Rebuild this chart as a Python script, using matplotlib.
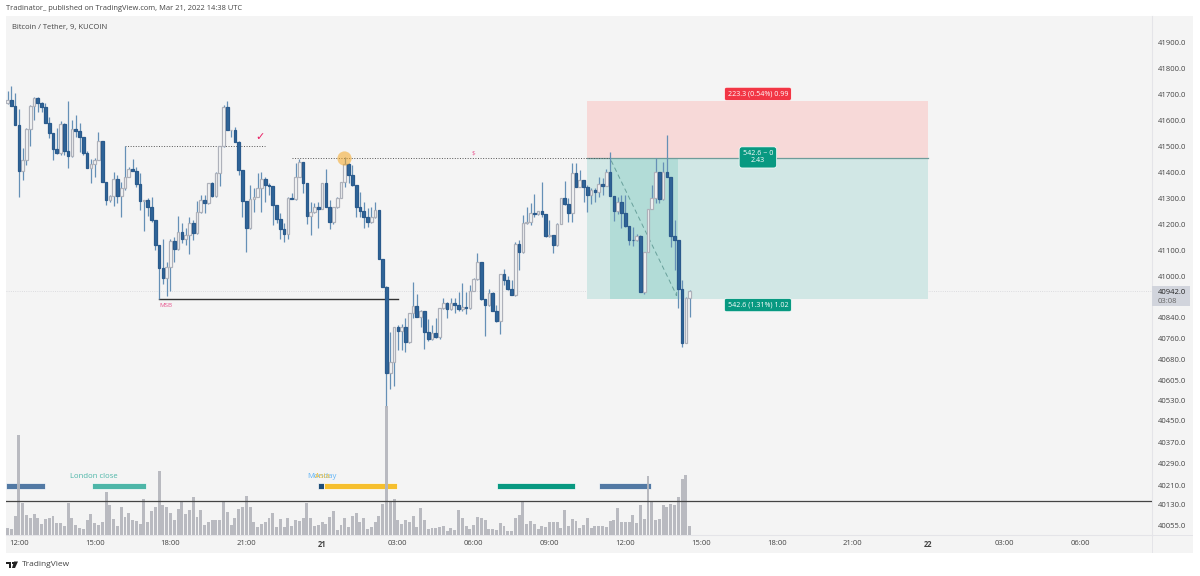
import matplotlib
matplotlib.use("Agg")
import numpy as np
from matplotlib import pyplot as plt
from matplotlib.patches import Rectangle, Polygon

plt.rcParams['font.family'] = ['Open Sans', 'DejaVu Sans']

# 9 minute candles, first one at 11:33
first_open = 41669
closes = [41680,41658,41582,41405,41448,41566,41658,41686,41667,41653,41590,41551,41490,41476,41586,41483,41463,41566,41561,41537,
          41476,41417,41431,41448,41520,41364,41293,41309,41373,41310,41339,41384,41412,41407,41355,41291,41293,41265,41215,41120,
          41032,40992,41036,41134,41103,41171,41144,41158,41203,41165,41248,41293,41281,41358,41310,41397,41502,41651,41564,41564,
          41519,41409,41288,41184,41296,41306,41339,41373,41353,41348,41274,41221,41180,41162,41302,41297,41384,41442,41360,41232,
          41246,41265,41260,41360,41268,41207,41265,41302,41362,41433,41390,41350,41266,41250,41227,41207,41227,41256,41064,40959,
          40624,40667,40805,40788,40802,40745,40856,40886,40843,40863,40785,40756,40779,40766,40875,40895,40872,40895,40887,40874,
          40879,40878,40944,40989,41054,40910,40887,40936,40866,40825,41007,40986,40949,40928,41124,41093,41206,41209,41245,41241,
          41250,41238,41155,41157,41119,41201,41303,41280,41245,41396,41344,41370,41344,41312,41334,41325,41357,41348,41402,41308,
          41250,41284,41244,41193,41141,41139,41155,40939,41093,41257,41302,41402,41296,41402,41383,41155,41139,40949,40742,40917,
          40942]
highs = [41715,41735,41708,41644,41493,41570,41660,41693,41690,41673,41669,41613,41551,41573,41600,41590,41677,41602,41622,41590,
         41538,41484,41451,41454,41557,41520,41364,41313,41403,41390,41364,41503,41420,41452,41420,41396,41293,41300,41304,41215,
         41120,41142,41055,41142,41149,41232,41203,41184,41229,41216,41291,41313,41313,41358,41364,41403,41502,41660,41676,41564,
         41577,41521,41407,41288,41351,41339,41396,41403,41384,41358,41348,41274,41245,41206,41304,41319,41435,41451,41442,41360,
         41287,41283,41287,41360,41412,41293,41268,41306,41364,41458,41438,41429,41350,41326,41287,41261,41268,41287,41256,41064,
         40962,40785,40805,40811,40815,40837,40859,40978,40931,40869,40863,40833,40811,40837,40875,40914,40901,40914,40914,40940,
         40972,40940,40966,40991,41090,41054,40910,40949,40940,40888,41008,41026,41000,40985,41133,41139,41236,41268,41281,41317,
         41250,41362,41238,41217,41157,41204,41303,41365,41300,41435,41435,41411,41370,41351,41338,41338,41383,41377,41415,41480,
         41308,41306,41312,41312,41193,41190,41164,41158,41093,41257,41351,41454,41402,41441,41544,41383,41216,41139,40984,40920,
         40945]
lows = [41664,41658,41582,41304,41371,41429,41503,41602,41635,41632,41590,41532,41448,41471,41467,41467,41416,41458,41538,41480,
        41467,41416,41358,41384,41448,41364,41274,41287,41270,41281,41227,41332,41381,41407,41345,41255,41175,41232,41210,41100,
        40910,40969,40923,40943,41055,41100,41126,41120,41085,41139,41162,41242,41242,41278,41306,41306,41348,41500,41564,41538,
        41518,41390,41229,41094,41181,41248,41304,41248,41287,41313,41197,41203,41142,41133,41142,41296,41293,41381,41319,41201,
        41158,41242,41187,41257,41265,41180,41201,41261,41300,41345,41358,41348,41229,41229,41184,41191,41203,41223,41064,40959,
        40496,40563,40575,40715,40715,40708,40743,40837,40841,40805,40717,40751,40753,40760,40756,40872,40837,40869,40859,40863,
        40866,40854,40874,40941,40985,40908,40769,40884,40864,40823,40775,40966,40946,40926,40923,41023,41090,41201,41196,41229,
        41235,41229,41152,41152,41088,41116,41199,41275,41210,41209,41344,41342,41287,41248,41280,41287,41306,41312,41348,41308,
        41212,41241,41187,41190,41119,41115,41136,40939,40930,41091,41257,41283,41283,41293,41381,41113,41023,40878,40727,40742,
        40840]
# no scale on the volume pane, so these are relative heights
volumes = [22,18,57,301,95,60,52,62,50,32,47,50,58,36,36,28,95,52,30,22,
           18,45,62,36,30,40,128,89,48,26,85,54,66,45,42,32,108,40,73,85,
           191,91,85,66,46,78,103,63,75,113,54,75,30,40,46,46,44,101,69,30,
           50,79,83,117,85,40,24,32,40,50,65,24,48,24,50,28,46,42,51,97,
           50,28,30,38,32,53,72,16,30,52,25,
           57,67,40,51,18,23,38,56,94,387,100,107,45,33,45,40,56,24,81,46,
           19,20,20,24,26,12,20,14,74,52,28,18,30,54,50,44,17,18,14,36,
           26,12,12,51,60,100,32,42,32,18,28,24,38,38,38,22,74,28,47,42,
           20,30,50,20,28,28,26,24,42,46,81,38,40,38,60,36,91,48,177,102,
           44,48,89,83,93,91,115,167,181,26]

time_labels = ['12:00','15:00','18:00','21:00','21','03:00','06:00','09:00','12:00','15:00','18:00','21:00','22','03:00','06:00']
price_labels = ['41900.0','41800.0','41700.0','41600.0','41500.0','41400.0','41300.0','41200.0','41100.0','41000.0',
                '40840.0','40760.0','40680.0','40605.0','40530.0','40450.0','40370.0','40290.0','40210.0','40130.0','40055.0']
# the scale is not quite linear at the bottom, so the label spots are kept apart from the text
price_ticks = [41900,41800,41700,41600,41500,41400,41300,41200,41100,41000,
               40838,40757,40676,40598,40521,40444,40359,40278,40193,40116,40038]

entry = 41454
stop = 41677.3
target = 40911.4

# session boxes, in bars
session_starts = [-0.4, 22.3, 82, 83.6, 129.2, 156]
session_ends = [9.8, 36.5, 83.6, 102.7, 149.7, 169.8]
session_colors = ['#5279a4', '#4db6a8', '#1f4e79', '#f6bf2d', '#089981', '#5279a4']

PANEL = '#f4f4f4'
UP_EDGE = '#aeb1ba'
UP_FILL = '#f8f8f8'
DOWN_FILL = '#2f6599'
DOWN_EDGE = '#2a5a8c'
WICK = '#6590b6'
PINK = '#e8578f'
SEP = '#e4e4e8'


def fx(x):
    return x / 1200


def fy(y):
    return 1 - y / 576


closes = np.array(closes, float)
opens = np.r_[first_open, closes[:-1]]
highs = np.array(highs, float)
lows = np.array(lows, float)
idx = np.arange(len(closes))
up = closes >= opens

fig = plt.figure(figsize=(12, 5.76), dpi=100, facecolor='white')
fig.add_artist(Rectangle((fx(6), fy(553)), fx(1187), 537 / 576, transform=fig.transFigure,
                         fc=PANEL, ec='none', zorder=-5))
fig.add_artist(Rectangle((fx(1152), fy(535.5)), fx(41), 1 / 576, transform=fig.transFigure, fc=SEP, ec='none', zorder=-4))
fig.add_artist(Rectangle((fx(1151.5), fy(553)), fx(1), 18 / 576, transform=fig.transFigure, fc=SEP, ec='none', zorder=-4))

ax = fig.add_axes([fx(6), fy(535), fx(1146), 519 / 576])
ax.patch.set_alpha(0)
ax.set_xlim(-0.396, 301.98)
ax.set_ylim(40000, 42004)

ax.axhline(40942, color='#d4d4d8', lw=0.6, ls=':', zorder=1)

# long/short tool
ax.add_patch(Rectangle((153, entry), 90, stop - entry, fc='#f7d9d8', ec='none', zorder=1))
ax.add_patch(Rectangle((153, target), 90, entry - target, fc='#d1e7e5', ec='none', zorder=1))
ax.add_patch(Rectangle((159, target), 18, entry - target, fc='#b2dcd7', ec='none', zorder=1.1))
ax.plot([153, 243], [entry, entry], color='#6f9c9a', lw=0.9, zorder=1.2)
ax.annotate('', xy=(177, target), xytext=(159, entry), zorder=1.3,
            arrowprops=dict(arrowstyle='->', ls=(0, (4, 4)), lw=0.7, color='#68a09b', mutation_scale=5))

# levels
ax.plot([31, 68], [41503, 41503], color='#555555', lw=0.7, ls=':', zorder=2)
ax.plot([75, 159], [entry, entry], color='#555555', lw=0.7, ls=':', zorder=2)
ax.plot([40, 103], [target, target], color='#333333', lw=1, zorder=2)

for s, e, c in zip(session_starts, session_ends, session_colors):
    ax.add_patch(Rectangle((s, 40176), e - s, 23, fc=c, ec='white', lw=0.5, zorder=2))

ax.vlines(idx, lows, highs, color=WICK, lw=0.9, zorder=3)
ax.bar(idx[up], (closes - opens)[up], bottom=opens[up], width=0.7, color=UP_FILL, edgecolor=UP_EDGE, lw=0.9, zorder=4)
ax.bar(idx[~up], (closes - opens)[~up], bottom=opens[~up], width=0.7, color=DOWN_FILL, edgecolor=DOWN_EDGE, lw=0.9, zorder=4)

ax.scatter([88.8], [entry], s=105, color='#f5a623', alpha=0.55, lw=0, zorder=5)
ax.text(66.6, 41533, '\u2713', color='#e91e63', fontsize=8, fontweight='bold', ha='center', va='center', zorder=6)
ax.text(122.8, 41475, '$', color=PINK, fontsize=4.5, ha='center', va='center', zorder=6)
ax.text(41.8, 40888, 'MSB', color=PINK, fontsize=4.5, ha='center', va='center', zorder=6)
ax.text(22.8, 40224, 'London close', color='#4db6a8', fontsize=5.6, ha='center', va='center', zorder=6)
ax.text(83, 40224, 'Monday', color='#64b5f6', fontsize=5.6, ha='center', va='center', zorder=6)
ax.text(83, 40224, 'Asia', color='#f6bf2d', fontsize=5.6, ha='center', va='center', zorder=6)

box = dict(boxstyle='round,pad=0.45,rounding_size=0.3', ec='white', lw=0.5)
ax.text(198, 41703, '223.3 (0.54%) 0.99', color='white', fontsize=5.1, ha='center', va='center', zorder=7,
        bbox=dict(fc='#f23645', **box))
ax.text(198, 41458, '542.6 ~ 0\n2.43', color='white', fontsize=5.1, ha='center', va='center', zorder=7,
        linespacing=1.0, bbox=dict(fc='#089981', boxstyle='round,pad=0.5,rounding_size=0.4', ec='white', lw=0.5))
ax.text(198, 40888, '542.6 (1.31%) 1.02', color='white', fontsize=5.1, ha='center', va='center', zorder=7,
        bbox=dict(fc='#089981', **box))

ax.spines['top'].set_visible(False)
ax.spines['left'].set_visible(False)
ax.spines['right'].set_color(SEP)
ax.spines['bottom'].set_color(SEP)

# volume sits over the session boxes, the black line over the volume
ax2 = ax.twinx()
ax2.patch.set_alpha(0)
ax2.set_ylim(0, 1557)
ax2.bar(np.arange(len(volumes)), volumes, width=0.78, color='#b4b5bc', alpha=0.92, lw=0, zorder=2)
ax2.plot([0, 1], [40130, 40130], transform=ax.get_yaxis_transform(), color='#444444', lw=0.9, zorder=3)
ax2.axis('off')

# ticks after twinx, it moves the first axes' labels back to the left
ax.set_xticks(3 + 20 * np.arange(len(time_labels)))
ax.set_xticklabels(time_labels)
ax.yaxis.tick_right()
ax.set_yticks(price_ticks)
ax.set_yticklabels(price_labels)
ax.tick_params(axis='x', length=0, pad=3.5, labelsize=5.5, labelcolor='#444444')
ax.tick_params(axis='y', length=0, pad=4.2, labelsize=5.5, labelcolor='#444444')
for lab in ax.get_xticklabels():
    if lab.get_text() in ('21', '22'):
        lab.set_fontweight('bold')

# last price tag
fig.add_artist(Rectangle((fx(1152), fy(306)), fx(38), 20 / 576, transform=fig.transFigure, fc='#d1d4dc', ec='none'))
fig.text(fx(1158), fy(292), '40942.0', fontsize=5.5, color='#222222', va='center')
fig.text(fx(1158), fy(301.5), '03:08', fontsize=5.5, color='#666666', va='center')

fig.text(fx(6), fy(9), 'Tradinator_ published on TradingView.com, Mar 21, 2022 14:38 UTC',
         fontsize=5.4, color='#444444', va='center')
fig.text(fx(12), fy(27.5), 'Bitcoin / Tether, 9, KUCOIN', fontsize=5.5, color='#444444', va='center')

# TradingView logo and name
LOGO = '#222222'
fig.add_artist(Polygon([(fx(6), fy(561.5)), (fx(11), fy(561.5)), (fx(11), fy(568)), (fx(8.5), fy(568)),
                        (fx(8.5), fy(563.5)), (fx(6), fy(563.5))], transform=fig.transFigure, fc=LOGO, ec='none'))
fig.add_artist(Polygon([(fx(14), fy(561.5)), (fx(18), fy(561.5)), (fx(15), fy(568)), (fx(12), fy(568))],
                       transform=fig.transFigure, fc=LOGO, ec='none'))
fig.add_artist(Rectangle((fx(11.5), fy(563.5)), fx(2), 2 / 576, transform=fig.transFigure, fc=LOGO, ec='none'))
fig.text(fx(22), fy(564.5), 'TradingView', fontsize=6, color='#444444', va='center')

fig.savefig('out.png', dpi=100)
